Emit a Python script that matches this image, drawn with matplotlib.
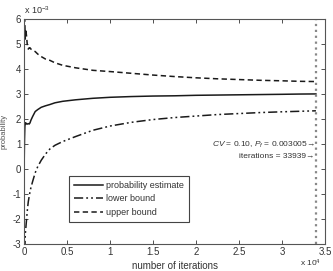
import numpy as np
import matplotlib
matplotlib.use("Agg")
import matplotlib.pyplot as plt

plt.rcParams['font.family'] = ['Liberation Sans', 'DejaVu Sans']
plt.rcParams['mathtext.fontset'] = 'custom'
plt.rcParams['mathtext.rm'] = 'Liberation Sans'
plt.rcParams['mathtext.it'] = 'Liberation Sans:italic'

# datos (probabilidad en unidades de 1e-3)
iteraciones = [10, 30, 60, 100, 150, 200, 300, 400, 500, 600, 700, 800, 1000, 1300, 1600,
               2000, 2500, 3000, 3600, 4500, 6000, 8000, 10000, 12500, 15000, 17500,
               20000, 22500, 25000, 27500, 30000, 32000, 33939]
estimacion = [0.0, 0.5, 1.2, 1.7, 1.85, 1.85, 1.8, 1.8, 1.82, 1.8, 1.85, 1.95, 2.1, 2.3, 2.38,
              2.47, 2.53, 2.58, 2.65, 2.71, 2.77, 2.83, 2.87, 2.9, 2.92, 2.93,
              2.95, 2.96, 2.97, 2.98, 2.99, 3.0, 3.005]
cota_inf = [-6.0, -5.0, -4.0, -3.2, -2.6, -2.4, -2.0, -1.6, -1.3, -1.1, -0.9, -0.75, -0.5, -0.15, 0.1,
            0.35, 0.6, 0.8, 0.95, 1.1, 1.3, 1.55, 1.72, 1.87, 1.98, 2.06,
            2.12, 2.18, 2.22, 2.26, 2.29, 2.31, 2.33]
cota_sup = [9.0, 8.0, 6.5, 5.8, 5.2, 5.6, 5.3, 4.9, 4.8, 4.85, 4.85, 4.8, 4.75, 4.7, 4.6,
            4.5, 4.4, 4.35, 4.25, 4.15, 4.05, 3.95, 3.9, 3.83, 3.76, 3.7,
            3.65, 3.61, 3.58, 3.55, 3.53, 3.51, 3.5]
n_final = 33939
xticks = [0, 5000, 10000, 15000, 20000, 25000, 30000, 35000]
xticklabels = ['0', '0.5', '1', '1.5', '2', '2.5', '3', '3.5']
yticks = [-3, -2, -1, 0, 1, 2, 3, 4, 5, 6]

fig = plt.figure(figsize=(3.33, 2.71), dpi=100)
ax = fig.add_axes([0.0721, 0.0996, 0.904, 0.830])

ax.plot(iteraciones, estimacion, color='#1a1a1a', lw=1.1, label='probability estimate')
ax.plot(iteraciones, cota_inf, color='#1a1a1a', lw=1.1, dashes=[6, 2, 1.2, 2, 1.2, 2],
        label='lower bound')
ax.plot(iteraciones, cota_sup, color='#1a1a1a', lw=1.1, dashes=[3.5, 2.2], label='upper bound')
ax.axvline(n_final, color='#888888', ls=':', lw=1.6)

ax.set_xlim(0, 35000)
ax.set_ylim(-3, 6)
ax.set_xticks(xticks)
ax.set_xticklabels(xticklabels)
ax.set_yticks(yticks)
ax.set_yticklabels([str(v) for v in yticks])
ax.tick_params(direction='in', length=3, width=0.6, labelsize=7, colors='#333333',
               top=True, right=True, pad=2)
for s in ax.spines.values():
    s.set_color('#555555')
    s.set_linewidth(0.8)

ax.text(0.0, 1.015, r'x 10$^{-3}$', transform=ax.transAxes, fontsize=6.5, color='#333333',
        ha='left', va='bottom')
ax.text(0.985, -0.06, r'x 10$^{4}$', transform=ax.transAxes, fontsize=6, color='#333333',
        ha='right', va='top')
ax.set_xlabel('number of iterations', fontsize=7, color='#333333', labelpad=3)
ax.set_ylabel('probability', fontsize=5.5, color='#555555')
ax.yaxis.set_label_coords(-0.055, 0.5)

ax.annotate(r'$CV$ = 0.10, $P_f$ = 0.003005→', xy=(n_final, 0.98), xytext=(-1, 0),
            textcoords='offset points', ha='right', va='center', fontsize=6, color='#333333')
ax.annotate('iterations = 33939→', xy=(n_final, 0.5), xytext=(-1, 0),
            textcoords='offset points', ha='right', va='center', fontsize=6, color='#333333')

leg = ax.legend(loc='lower left', bbox_to_anchor=(0.136, 0.08), fontsize=6.5,
                fancybox=False, framealpha=1, edgecolor='#444444', handlelength=3.2,
                borderpad=0.5, labelspacing=0.5, handletextpad=0.4)
leg.get_frame().set_linewidth(0.8)
for t in leg.get_texts():
    t.set_color('#333333')

fig.savefig('out.png', dpi=100)
